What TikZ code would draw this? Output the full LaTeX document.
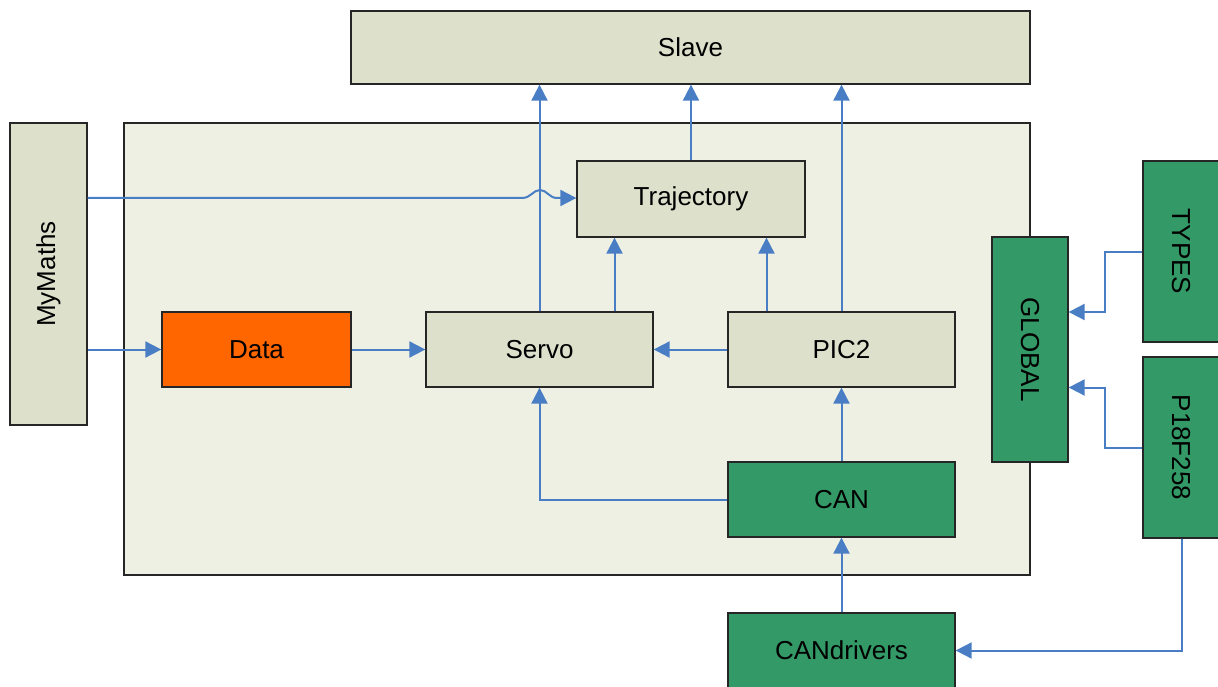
\documentclass[tikz,border=0pt]{standalone}
\usepackage{fontspec}
\setmainfont{Liberation Sans}
\usetikzlibrary{arrows.meta}
\definecolor{boxfill}{HTML}{DDE1CB}
\definecolor{contfill}{HTML}{EEF0E4}
\definecolor{grn}{HTML}{339966}
\definecolor{org}{HTML}{FF6600}
\definecolor{lineblue}{HTML}{4A7EC4}
\begin{document}
\begin{tikzpicture}[x=1pt,y=-1pt,
  box/.style={draw=black!85, line width=1.3pt, fill=boxfill, inner sep=0pt, font=\fontsize{26}{30}\selectfont},
  gbox/.style={box, fill=grn},
  conn/.style={draw=lineblue, line width=2pt, -{Triangle[length=16pt,width=16pt]}}]
\useasboundingbox (0,0) rectangle (1218,687);
\node[box, fill=contfill, minimum width=906pt, minimum height=452pt] (cont) at (577,349) {};
\node[box, minimum width=679pt, minimum height=73pt] (slave) at (690.5,47.5) {Slave};
\node[box, minimum width=77pt, minimum height=302pt] (mymaths) at (48.5,274) {\rotatebox{90}{MyMaths}};
\node[box, fill=org, minimum width=189pt, minimum height=75pt] (data) at (256.5,349.5) {Data};
\node[box, minimum width=227pt, minimum height=75pt] (servo) at (539.5,349.5) {Servo};
\node[box, minimum width=228pt, minimum height=76pt] (traj) at (691,199) {Trajectory};
\node[box, minimum width=227pt, minimum height=75pt] (pic) at (841.5,349.5) {PIC2};
\node[gbox, minimum width=227pt, minimum height=75pt] (can) at (841.5,499.5) {CAN};
\node[gbox, minimum width=227pt, minimum height=75pt] (candrv) at (841.5,650.5) {CANdrivers};
\node[gbox, minimum width=76pt, minimum height=225pt] (global) at (1030,349.5) {\rotatebox{-90}{GLOBAL}};
\node[gbox, minimum width=76pt, minimum height=181pt] (types) at (1181,251.5) {\rotatebox{-90}{TYPES}};
\node[gbox, minimum width=76pt, minimum height=181pt] (p18) at (1181,447.5) {\rotatebox{-90}{P18F258}};
% connectors
\coordinate (jumpA) at (522,198);
\coordinate (jumpB) at (557,198);
\draw[conn] (mymaths.east |- jumpA) -- (jumpA) .. controls (531,198) and (533,190) .. (540,190) .. controls (547,190) and (549,198) .. (jumpB) -- (traj.west |- jumpB);
\draw[conn] (mymaths.east |- data.west) -- (data.west);
\draw[conn] (data.east) -- (servo.west);
\draw[conn] (pic.west) -- (servo.east);
\draw[conn] (servo.north) -- (servo.north |- slave.south);
\draw[conn] ([xshift=75pt]servo.north) -- ([xshift=75pt]servo.north |- traj.south);
\draw[conn] ([xshift=-75pt]pic.north) -- ([xshift=-75pt]pic.north |- traj.south);
\draw[conn] (pic.north) -- (pic.north |- slave.south);
\draw[conn] (traj.north) -- (traj.north |- slave.south);
\draw[conn] (can.north) -- (pic.south);
\draw[conn] (can.west) -| (servo.south);
\draw[conn] (candrv.north) -- (can.south);
\draw[conn] (types.west) -- ++(-37,0) |- ([yshift=37.5pt]global.east);
\draw[conn] (p18.west) -- ++(-37,0) |- ([yshift=-38pt]global.east);
\draw[conn] ([xshift=1pt]p18.south) |- (candrv.east);
\end{tikzpicture}
\end{document}
